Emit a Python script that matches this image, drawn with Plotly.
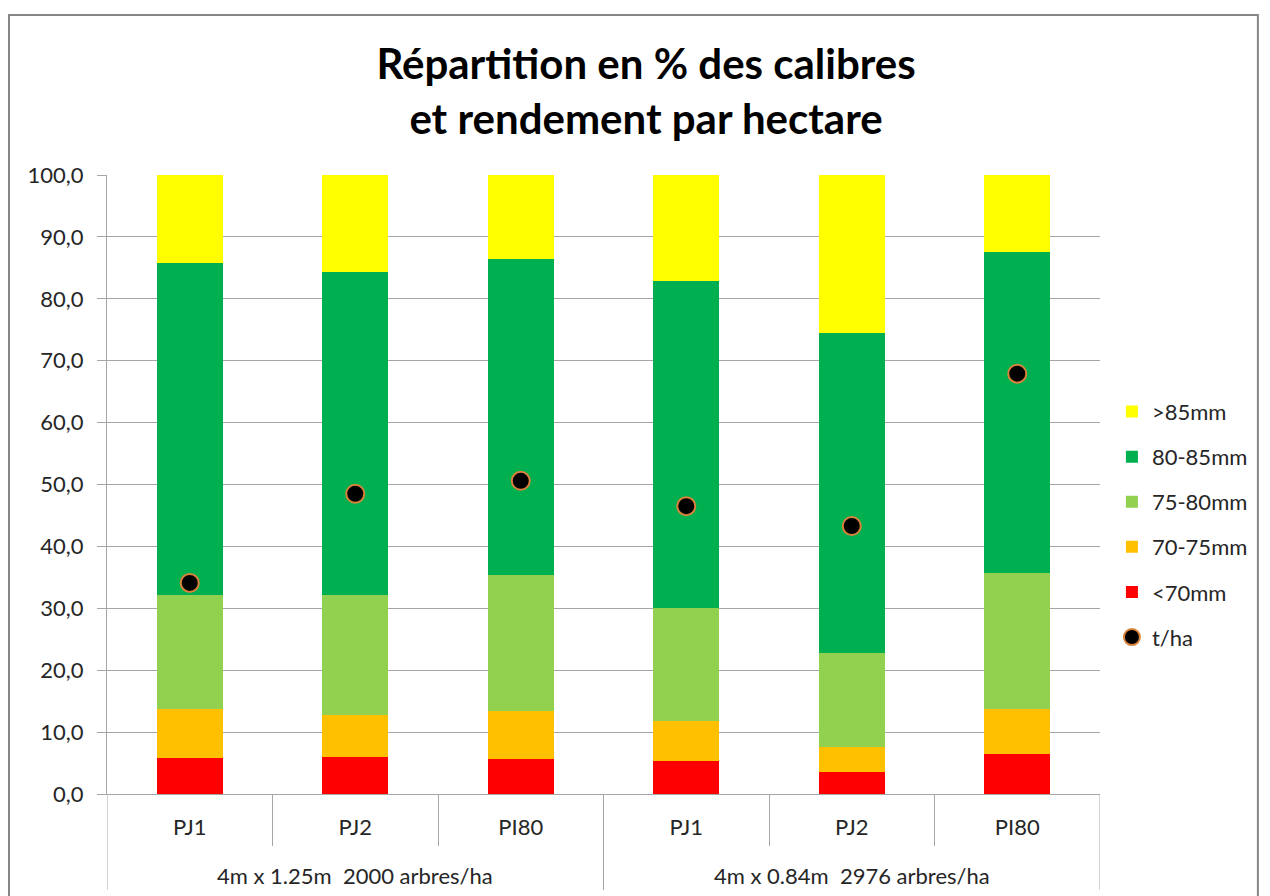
import plotly.graph_objects as go

groups = ["4m x 1.25m  2000 arbres/ha", "4m x 0.84m  2976 arbres/ha"]
varieties = ["PJ1", "PJ2", "PI80", "PJ1", "PJ2", "PI80"]

lt70 = [5.8, 6.0, 5.7, 5.3, 3.6, 6.5]
c70_75 = [7.9, 6.8, 7.7, 6.5, 4.0, 7.2]
c75_80 = [18.4, 19.3, 22.0, 18.2, 15.2, 22.0]
c80_85 = [53.7, 52.2, 51.0, 52.9, 51.7, 51.9]
gt85 = [14.2, 15.7, 13.6, 17.1, 25.5, 12.4]
t_ha = [34.1, 48.5, 50.6, 46.5, 43.3, 67.9]

series = [
    ("<70mm", lt70, "#FF0000", 5),
    ("70-75mm", c70_75, "#FFC000", 4),
    ("75-80mm", c75_80, "#92D050", 3),
    ("80-85mm", c80_85, "#00B050", 2),
    (">85mm", gt85, "#FFFF00", 1),
]

FONT = "Lato"
TXT = "#262626"
GRID = "#A6A6A6"
FS = 22
idx = list(range(len(varieties)))

fig = go.Figure()
for name, vals, color, rank in series:
    fig.add_trace(go.Bar(
        x=idx, y=vals, name=name, marker=dict(color=color, line=dict(width=0)),
        legendrank=rank, legendgroup=name, width=0.4,
    ))
fig.add_trace(go.Scatter(
    x=idx, y=t_ha, name="t/ha", mode="markers", legendrank=6, legendgroup="tha",
    marker=dict(color="black", size=18, line=dict(color="#D9823B", width=2)),
))

H_PLOT = 619.0
fig.update_layout(
    width=1270, height=896,
    barmode="stack",
    separators=", ",
    paper_bgcolor="white", plot_bgcolor="white",
    margin=dict(l=107, r=170, t=175, b=102, autoexpand=False),
    font=dict(family=FONT, size=FS, color=TXT),
    title=dict(
        text="<b>Répartition en % des calibres<br>et rendement par hectare</b>",
        x=0.5087, xanchor="center", y=0.9114, yanchor="middle",
        font=dict(family=FONT, size=42, color="black"),
    ),
    legend=dict(
        x=1.012, xanchor="left", y=0.435, yanchor="middle",
        traceorder="grouped", tracegroupgap=13.5, itemwidth=30,
        font=dict(family=FONT, size=FS, color=TXT),
        bgcolor="rgba(0,0,0,0)",
    ),
    showlegend=True,
)

fig.update_yaxes(
    range=[0, 100], dtick=10, tickformat=".1f",
    showgrid=True, gridcolor=GRID, gridwidth=1,
    showline=True, linecolor=GRID, linewidth=1,
    ticks="outside", ticklen=9, tickcolor=GRID,
    ticklabelstandoff=9,
    zeroline=False,
    tickfont=dict(family=FONT, size=FS, color=TXT),
)
fig.update_xaxes(
    range=[-0.5, len(varieties) - 0.5],
    tickvals=idx, ticktext=varieties,
    showgrid=False, zeroline=False,
    showline=True, linecolor=GRID, linewidth=1,
    ticks="", ticklabelstandoff=14,
    minor=dict(tickvals=[0.5, 1.5, 3.5, 4.5], ticks="outside", ticklen=51,
               tickcolor=GRID, tickwidth=1, showgrid=False),
    tickfont=dict(family=FONT, size=FS, color=TXT),
)

# group dividers spanning both label rows
for xb in [-0.5, 2.5, 5.5]:
    fig.add_shape(type="line", xref="x", yref="paper", x0=xb, x1=xb,
                  y0=0, y1=-96 / H_PLOT, line=dict(color=GRID, width=1))

# group labels
for gi, g in enumerate(groups):
    fig.add_annotation(text=g, xref="x", yref="paper", x=gi * 3 + 1,
                       y=-(875 - 794) / H_PLOT, yanchor="middle", showarrow=False,
                       font=dict(family=FONT, size=FS, color=TXT))

# outer chart border
fig.add_shape(type="rect", xref="paper", yref="paper",
              x0=-0.0987, x1=1.159, y0=-0.3, y1=(794 - 15) / H_PLOT,
              line=dict(color="#868686", width=2), fillcolor="rgba(0,0,0,0)",
              layer="below")

fig.write_html("out.html", config={"displayModeBar": False},
               post_script="document.body.style.margin='0';")
